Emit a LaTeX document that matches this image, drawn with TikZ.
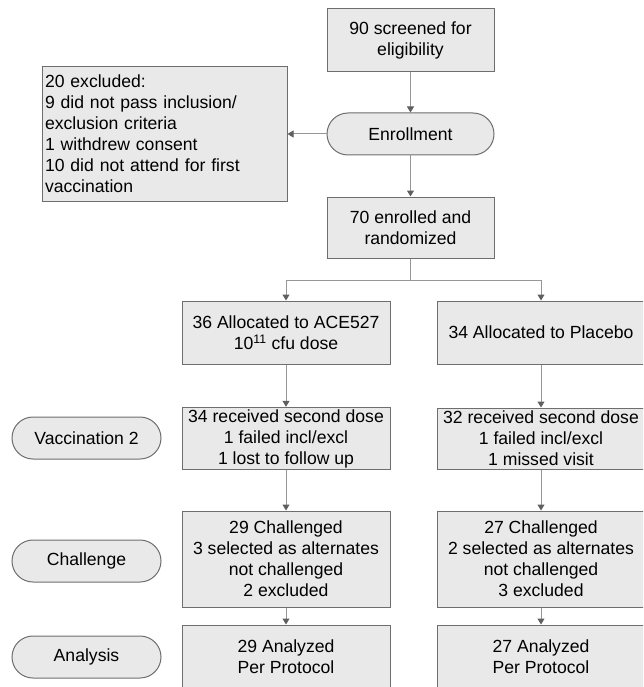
\documentclass[tikz,border=0pt]{standalone}
\usepackage{fontspec}
\setmainfont{Liberation Sans}
\usetikzlibrary{arrows.meta}
\definecolor{boxfill}{RGB}{233,233,233}
\definecolor{boxline}{RGB}{110,110,110}
\definecolor{arrline}{RGB}{150,150,150}
\definecolor{arrhead}{RGB}{95,95,95}
\begin{document}
\begin{tikzpicture}[x=1pt,y=-1pt,
  font=\fontsize{17.6}{21}\selectfont,
  box/.style={draw=boxline,fill=boxfill,line width=1pt,align=center,inner sep=2pt},
  pill/.style={box,rounded corners=21pt,minimum width=149pt,minimum height=42pt},
  arr/.style={draw=arrline,line width=1pt,-{Triangle[width=7pt,length=6pt,color=arrhead]}}]
\clip (0,0) rectangle (643,687);

\node[box,minimum width=167pt,minimum height=63pt] (scr) at (410.5,40.5) {90 screened for\\eligibility};
\node[box,rounded corners=21pt,minimum width=167pt,minimum height=42pt] (enr) at (410.5,134) {Enrollment};
\node[box,align=left,text width=239pt,inner xsep=3pt,minimum height=134pt] (exc) at (164.5,134)
  {20 excluded:\\9 did not pass inclusion/\\exclusion criteria\\1 withdrew consent\\10 did not attend for first\\vaccination};
\node[box,minimum width=167pt,minimum height=61pt] (rnd) at (410.5,227.5) {70 enrolled and\\randomized};
\coordinate (split) at (410.5,280);

\node[box,minimum width=208pt,minimum height=63pt] (ace) at (286,332.5) {36 Allocated to ACE527\\10\textsuperscript{11} cfu dose};
\node[box,minimum width=208pt,minimum height=63pt] (plc) at (541,332.5) {34 Allocated to Placebo};

\node[pill] (vac) at (86.5,438) {Vaccination 2};
\node[box,minimum width=208pt,minimum height=61pt] (acevac) at (286,438.5) {34 received second dose\\1 failed incl/excl\\1 lost to follow up};
\node[box,minimum width=208pt,minimum height=61pt] (plcvac) at (541,438.5) {32 received second dose\\1 failed incl/excl\\1 missed visit};

\node[pill] (chl) at (86.5,561) {Challenge};
\node[box,minimum width=208pt,minimum height=96pt] (acechl) at (286,559) {29 Challenged\\3 selected as alternates\\not challenged\\2 excluded};
\node[box,minimum width=208pt,minimum height=96pt] (plcchl) at (541,559) {27 Challenged\\2 selected as alternates\\not challenged\\3 excluded};

\node[pill] (ana) at (86.5,657) {Analysis};
\node[box,minimum width=208pt,minimum height=64pt] (aceana) at (286,657) {29 Analyzed\\Per Protocol};
\node[box,minimum width=208pt,minimum height=64pt] (plcana) at (541,657) {27 Analyzed\\Per Protocol};

\draw[arr] (scr) -- (enr);
\draw[arr] (enr) -- (exc);
\draw[arr] (enr) -- (rnd);
\draw[draw=arrline,line width=1pt] (rnd) -- (split);
\draw[arr] (split) -| (ace);
\draw[arr] (split) -| (plc);
\draw[arr] (ace) -- (acevac);
\draw[arr] (plc) -- (plcvac);
\draw[arr] (acevac) -- (acechl);
\draw[arr] (plcvac) -- (plcchl);
\draw[arr] (acechl) -- (aceana);
\draw[arr] (plcchl) -- (plcana);

\end{tikzpicture}
\end{document}
